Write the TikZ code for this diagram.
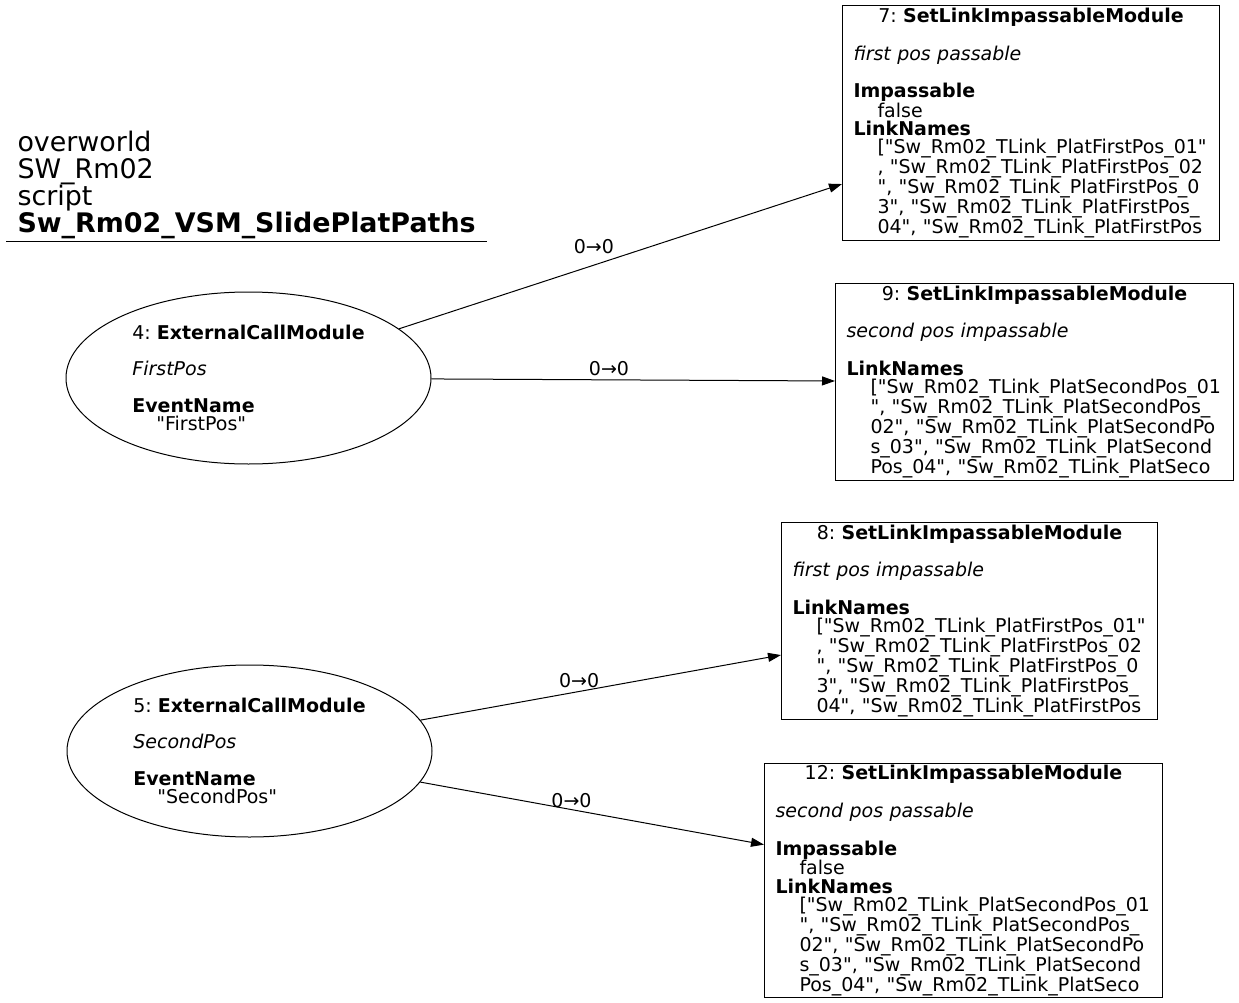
\documentclass[tikz,border=0pt]{standalone}
\usepackage{fontspec}
\setmainfont{DejaVu Sans}[Ligatures=TeXOff]
\usetikzlibrary{arrows.meta, shapes.geometric, positioning}

\newcommand{\listindent}{\hspace*{24pt}}
\frenchspacing

\begin{document}
\begin{tikzpicture}[x=1pt,y=-1pt,-,auto,line width=1pt,
                    every node/.style={font=\fontsize{19}{18.3}\selectfont},
                    call node/.style={ellipse,draw,minimum width=365pt,minimum height=172pt,
                                      inner sep=0pt,align=left},
                    module node/.style={rectangle,draw,anchor=north west,inner xsep=0pt,
                                        inner ysep=0pt,align=left},
                    title node/.style={anchor=south west,inner xsep=11pt,inner ysep=2pt,
                                       text width=458pt,align=left,
                                       font=\fontsize{26.9}{27}\selectfont}]

  \useasboundingbox (0,0) rectangle (1239,1003);

  % graph title
  \node[title node] (title) at (6,241)
    {overworld\\ SW\_Rm02\\ script\\ \textbf{Sw\_Rm02\_VSM\_SlidePlatPaths}};
  \draw (title.south west) -- (title.south east);

  % external calls
  \node[call node] (4) at (248.5,378)
    {4: \textbf{ExternalCallModule}\\[18.3pt] \textit{FirstPos}\\[18.3pt]
     \textbf{EventName}\\ \listindent "FirstPos"};
  \node[call node] (5) at (249.5,751)
    {5: \textbf{ExternalCallModule}\\[18.3pt] \textit{SecondPos}\\[18.3pt]
     \textbf{EventName}\\ \listindent "SecondPos"};

  % link modules
  \node[module node,minimum width=377pt,minimum height=235pt,text width=355pt] (7) at (842,5)
    {\hfill 7: \textbf{SetLinkImpassableModule}\hfill\null\\[18.3pt]
     \textit{first pos passable}\\[18.3pt]
     \textbf{Impassable}\\ \listindent false\\
     \textbf{LinkNames}\\
     \listindent ["Sw\_Rm02\_TLink\_PlatFirstPos\_01"\\
     \listindent , "Sw\_Rm02\_TLink\_PlatFirstPos\_02\\
     \listindent ", "Sw\_Rm02\_TLink\_PlatFirstPos\_0\\
     \listindent 3", "Sw\_Rm02\_TLink\_PlatFirstPos\_\\
     \listindent 04", "Sw\_Rm02\_TLink\_PlatFirstPos};
  \node[module node,minimum width=398pt,minimum height=197pt,text width=376pt] (9) at (835,283)
    {\hfill 9: \textbf{SetLinkImpassableModule}\hfill\null\\[18.3pt]
     \textit{second pos impassable}\\[18.3pt]
     \textbf{LinkNames}\\
     \listindent ["Sw\_Rm02\_TLink\_PlatSecondPos\_01\\
     \listindent ", "Sw\_Rm02\_TLink\_PlatSecondPos\_\\
     \listindent 02", "Sw\_Rm02\_TLink\_PlatSecondPo\\
     \listindent s\_03", "Sw\_Rm02\_TLink\_PlatSecond\\
     \listindent Pos\_04", "Sw\_Rm02\_TLink\_PlatSeco};
  \node[module node,minimum width=376pt,minimum height=197pt,text width=354pt] (8) at (781,522)
    {\hfill 8: \textbf{SetLinkImpassableModule}\hfill\null\\[18.3pt]
     \textit{first pos impassable}\\[18.3pt]
     \textbf{LinkNames}\\
     \listindent ["Sw\_Rm02\_TLink\_PlatFirstPos\_01"\\
     \listindent , "Sw\_Rm02\_TLink\_PlatFirstPos\_02\\
     \listindent ", "Sw\_Rm02\_TLink\_PlatFirstPos\_0\\
     \listindent 3", "Sw\_Rm02\_TLink\_PlatFirstPos\_\\
     \listindent 04", "Sw\_Rm02\_TLink\_PlatFirstPos};
  \node[module node,minimum width=398pt,minimum height=234pt,text width=376pt] (12) at (764,763)
    {\hfill 12: \textbf{SetLinkImpassableModule}\hfill\null\\[18.3pt]
     \textit{second pos passable}\\[18.3pt]
     \textbf{Impassable}\\ \listindent false\\
     \textbf{LinkNames}\\
     \listindent ["Sw\_Rm02\_TLink\_PlatSecondPos\_01\\
     \listindent ", "Sw\_Rm02\_TLink\_PlatSecondPos\_\\
     \listindent 02", "Sw\_Rm02\_TLink\_PlatSecondPo\\
     \listindent s\_03", "Sw\_Rm02\_TLink\_PlatSecond\\
     \listindent Pos\_04", "Sw\_Rm02\_TLink\_PlatSeco};

  \path[-{Triangle[length=13pt,width=9pt]}]
    (4) edge node[pos=0.44,above=8pt] {0→0} (7)
    (4) edge node[pos=0.44,above] {0→0} (9)
    (5) edge node[pos=0.44,above] {0→0} (8)
    (5) edge node[pos=0.44,above,inner sep=1pt] {0→0} (12);

\end{tikzpicture}
\end{document}
